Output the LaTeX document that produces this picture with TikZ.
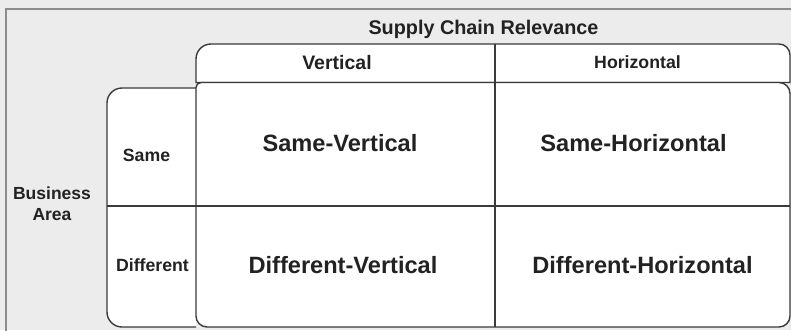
\documentclass[tikz,border=0pt]{standalone}
\usepackage{fontspec}
\setmainfont{Liberation Sans}
\definecolor{panelgray}{HTML}{ECECEC}
\definecolor{rimgray}{HTML}{8C8C8C}
\definecolor{inkgray}{HTML}{3A3A3A}
\definecolor{textblack}{HTML}{222222}
\tikzstyle{cellbox} = [draw = inkgray, line width = 1.4pt, fill = white]
\tikzstyle{cellline} = [draw = inkgray, line width = 1.4pt]
\tikzstyle{rim} = [draw = rimgray, line width = 2pt]
\tikzstyle{tag} = [inner sep = 0pt, text depth = 0pt, text = textblack]
\tikzstyle{bigtag} = [tag, text height = 16.9pt, font = \bfseries\fontsize{23.6}{28}\selectfont]
\tikzstyle{headtag} = [tag, text height = 14.2pt, font = \bfseries\fontsize{19.8}{24}\selectfont]
\tikzstyle{sidetag} = [tag, text height = 12.7pt, font = \bfseries\fontsize{17.7}{21}\selectfont]

\begin{document}
\begin{tikzpicture}[x = 1pt, y = -1pt]
        \useasboundingbox (0,0) rectangle (791,330);
        \fill [panelgray] (0,0) rectangle (791,330);
        \draw [rim] (6,331) -- (6,9) -- (792,9);
        % boxes
        \draw [cellbox] (196,82.5) [rounded corners = 15pt] -- (196,44) [rounded corners = 11pt] -- (790,44) [sharp corners] -- (790,82.5) -- cycle;
        \draw [cellbox] (196,88) [rounded corners = 15pt] -- (107,88) -- (107,327) [sharp corners] -- (196,327);
        \draw [cellbox] (196,200) [rounded corners = 5pt] -- (196,82.5) [rounded corners = 11pt] -- (790,82.5) -- (790,327) -- (196,327) -- (196,200);
        \draw [cellline] (495,44) -- (495,327);
        \draw [cellline] (107,206) -- (790,206);
        % labels
        \node (scr)  [headtag] at (483.5,27) {Supply Chain Relevance};
        \node (vert) [headtag, font = \bfseries\fontsize{19.5}{24}\selectfont] at (337,62) {Vertical};
        \node (horz) [sidetag] at (637.5,62) {Horizontal};
        \node (area) [font = \bfseries\fontsize{17.5}{21}\selectfont, align = center, inner sep = 0pt, text = textblack] at (52,203.5) {Business\\Area};
        \node (same) [sidetag] at (146.5,155) {Same};
        \node (diff) [sidetag] at (152.5,265) {Different};
        \node (sv) [bigtag] at (340,143) {Same-Vertical};
        \node (sh) [bigtag] at (633.5,143) {Same-Horizontal};
        \node (dv) [bigtag] at (343,265) {Different-Vertical};
        \node (dh) [bigtag] at (642.5,265) {Different-Horizontal};
    \end{tikzpicture}
\end{document}
